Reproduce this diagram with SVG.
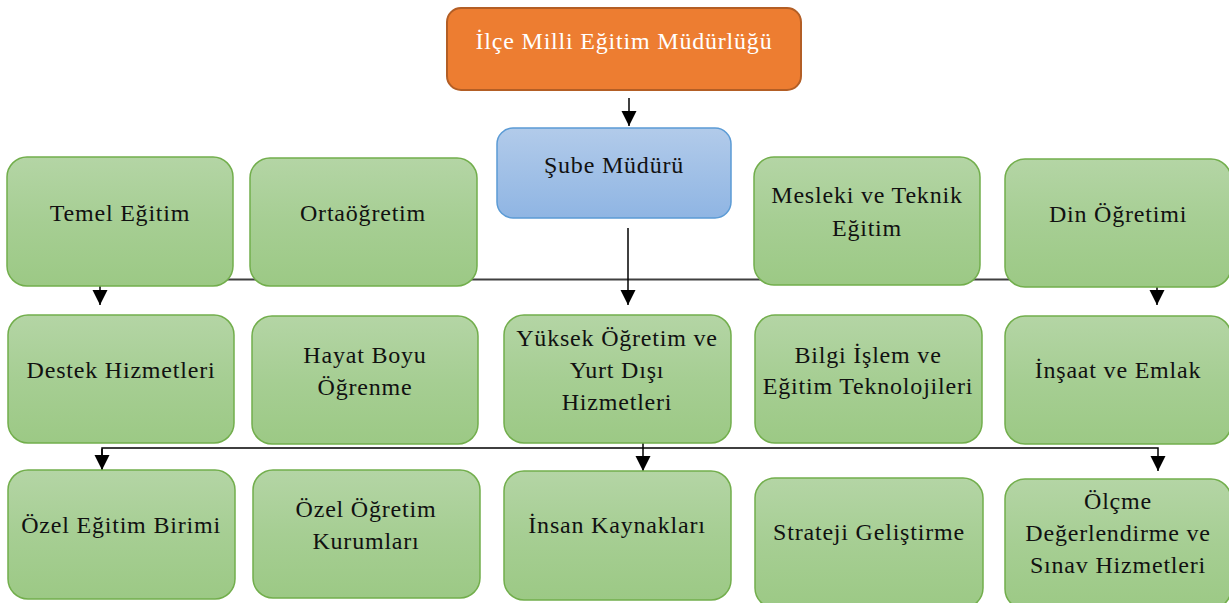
<svg xmlns="http://www.w3.org/2000/svg" width="1229" height="603" viewBox="0 0 1229 603">
<defs>
<linearGradient id="gGreen" x1="0" y1="0" x2="0" y2="1">
<stop offset="0" stop-color="#B4D5A5"/>
<stop offset="0.5" stop-color="#A6CE93"/>
<stop offset="1" stop-color="#9CC985"/>
</linearGradient>
<linearGradient id="gBlue" x1="0" y1="0" x2="0" y2="1">
<stop offset="0" stop-color="#B2CBEA"/>
<stop offset="1" stop-color="#8FB5E3"/>
</linearGradient>
<marker id="arr" viewBox="0 0 10 10" refX="10" refY="5" markerUnits="userSpaceOnUse" markerWidth="15" markerHeight="16" orient="auto">
<path d="M0,0 L10,5 L0,10 z" fill="#000"/>
</marker>
<style>
.green{fill:url(#gGreen);stroke:#72AE4C;stroke-width:1.5}
.blue{fill:url(#gBlue);stroke:#5B9BD5;stroke-width:1.5}
.orange{fill:#ED7D31;stroke:#B35E25;stroke-width:2}
.t{font-family:"Liberation Serif","Times New Roman",serif;font-size:24px;letter-spacing:0.8px;fill:#111;text-anchor:middle}
.tw{fill:#fff}
.c1{stroke:#404040;stroke-width:2;fill:none}
.c2{stroke:#000;stroke-width:1.5;fill:none}
</style>
</defs>
<g id="connectors">
<line class="c2" x1="629" y1="98" x2="629" y2="126" marker-end="url(#arr)"/>
<line class="c1" x1="225" y1="279.5" x2="1012" y2="279.5"/>
<line class="c2" x1="628" y1="228" x2="628" y2="305" marker-end="url(#arr)"/>
<line class="c2" x1="100" y1="279" x2="100" y2="305" marker-end="url(#arr)"/>
<line class="c2" x1="1157" y1="279" x2="1157" y2="305" marker-end="url(#arr)"/>
<polyline class="c2" points="102,470 102,448 1158,448 1158,471" marker-end="url(#arr)"/>
<line class="c2" x1="102" y1="449" x2="102" y2="470" marker-end="url(#arr)"/>
<line class="c2" x1="643" y1="443" x2="643" y2="471" marker-end="url(#arr)"/>
</g>
<g id="ilce"><rect class="orange" x="447" y="8" width="354" height="82" rx="14"/><text class="t tw" x="624" y="49">İlçe Milli Eğitim Müdürlüğü</text></g>
<g id="sube"><rect class="blue" x="497" y="128" width="234" height="90" rx="16"/><text class="t" x="614" y="173">Şube Müdürü</text></g>
<g id="temel"><rect class="green" x="7" y="157" width="226" height="129" rx="20"/><text class="t" x="120" y="221">Temel Eğitim</text></g>
<g id="orta"><rect class="green" x="250" y="158" width="227" height="128" rx="20"/><text class="t" x="363" y="221">Ortaöğretim</text></g>
<g id="mesleki"><rect class="green" x="754" y="157" width="226" height="128" rx="20"/><text class="t" x="867" y="203">Mesleki ve Teknik</text><text class="t" x="867" y="236">Eğitim</text></g>
<g id="din"><rect class="green" x="1005" y="159" width="226" height="128" rx="20"/><text class="t" x="1118" y="222">Din Öğretimi</text></g>
<g id="destek"><rect class="green" x="8" y="315" width="226" height="128" rx="20"/><text class="t" x="121" y="378">Destek Hizmetleri</text></g>
<g id="hayat"><rect class="green" x="252" y="316" width="226" height="128" rx="20"/><text class="t" x="365" y="363">Hayat Boyu</text><text class="t" x="365" y="395">Öğrenme</text></g>
<g id="yuksek"><rect class="green" x="504" y="315" width="227" height="128" rx="20"/><text class="t" x="617" y="346">Yüksek Öğretim ve</text><text class="t" x="617" y="378">Yurt Dışı</text><text class="t" x="617" y="410">Hizmetleri</text></g>
<g id="bilgi"><rect class="green" x="755" y="315" width="227" height="128" rx="20"/><text class="t" x="868" y="363">Bilgi İşlem ve</text><text class="t" x="868" y="394">Eğitim Teknolojileri</text></g>
<g id="insaat"><rect class="green" x="1005" y="316" width="226" height="128" rx="20"/><text class="t" x="1118" y="378">İnşaat ve Emlak</text></g>
<g id="ozelegitim"><rect class="green" x="8" y="470" width="227" height="129" rx="20"/><text class="t" x="121" y="533">Özel Eğitim Birimi</text></g>
<g id="ozelogretim"><rect class="green" x="253" y="470" width="227" height="128" rx="20"/><text class="t" x="366" y="517">Özel Öğretim</text><text class="t" x="366" y="549">Kurumları</text></g>
<g id="insan"><rect class="green" x="504" y="471" width="227" height="129" rx="20"/><text class="t" x="617" y="533">İnsan Kaynakları</text></g>
<g id="strateji"><rect class="green" x="755" y="478" width="228" height="130" rx="20"/><text class="t" x="869" y="540">Strateji Geliştirme</text></g>
<g id="olcme"><rect class="green" x="1005" y="479" width="226" height="130" rx="20"/><text class="t" x="1118" y="509">Ölçme</text><text class="t" x="1118" y="541">Değerlendirme ve</text><text class="t" x="1118" y="573">Sınav Hizmetleri</text></g>
</svg>
